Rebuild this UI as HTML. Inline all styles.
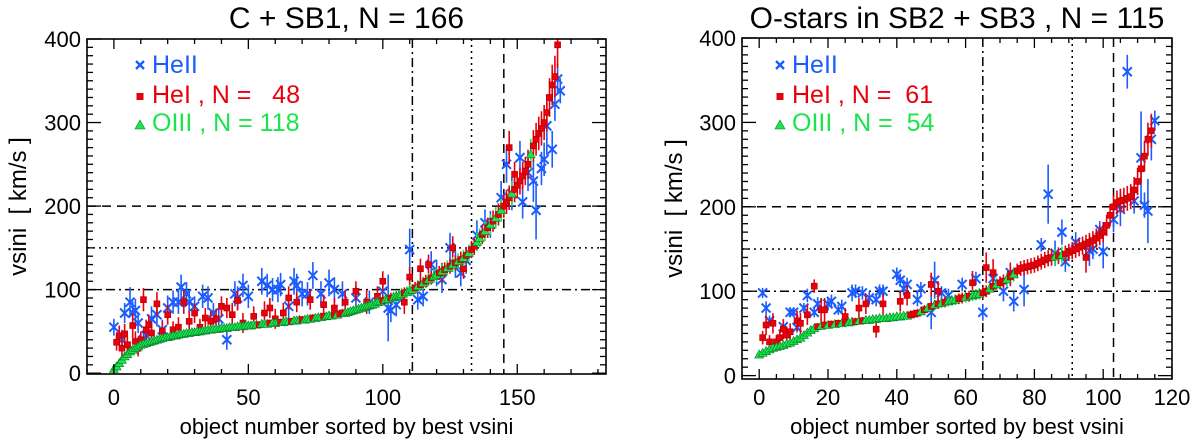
<!DOCTYPE html>
<html><head><meta charset="utf-8">
<style>
html,body{margin:0;padding:0;background:#fff;}
svg{display:block;font-family:"Liberation Sans",Arial,sans-serif;}
</style></head>
<body>
<svg id="chart" width="1200" height="441" viewBox="0 0 1200 441" xmlns="http://www.w3.org/2000/svg"></svg>
<script>
// ---------- LEFT PANEL DATA (C + SB1) ----------
const leftCurve = [
5,8,12,16,20,23,26,28,30,32,
34,35,36,37,38,39,40,41,42,43,
43,44,45,45,46,47,47,48,48,49,
49,50,50,51,51,52,52,53,53,53,
54,54,54,55,55,55,56,56,56,57,
57,57,58,58,58,59,59,59,60,60,
60,61,61,61,62,62,62,63,63,64,
64,64,65,65,66,66,67,67,68,68,
69,69,70,70,71,72,72,73,74,75,
76,77,78,79,80,81,82,83,85,86,
87,88,89,90,91,92,93,95,96,97,
99,100,102,104,106,108,110,112,114,116,
118,120,122,124,126,128,130,132,134,136,
138,141,144,148,152,157,162,166,170,174,
178,182,186,190,195,200,205,210,215,220,
225,230,236,242,250,262,272,280,287,293,
300,312,330,345,355,393];
const leftRedIdx = [54,58,62,66,70,74,78,82,84,85,100,103,108,112,114,116,118,121,123,125,127,129,131,133,134,137,139,141,143,145,146,147,149,150,151,152,153,154,156,157,158,159,160,161,162,163,164,165];
const leftRedX = [1,2,3,4,5,6,7,8,9,10,11,12,13,14,16,18,20,22,24,26,28,30,32,34,36,38,40,42,44,46,48,52,56,58,60,63,65,68,73,78,82,86,90,94,98,100,108,110,114,117,122,126,130,147,149];
const leftRedY = [37,45,30,47,34,28,57,38,30,40,88,52,58,48,83,50,70,52,55,85,62,72,55,66,62,65,80,78,70,87,60,68,72,78,65,72,90,85,88,82,78,85,98,85,92,110,85,115,125,130,120,150,125,270,238];
const leftRedErr = [10,12,10,12,10,10,15,12,10,10,14,12,12,10,14,12,12,10,12,14,12,12,10,12,12,12,12,12,14,12,12,12,14,12,12,12,14,12,12,12,12,14,12,14,12,12,14,12,12,12,12,14,12,20,15];
const leftBlueX = [0,3,4,6,7,8,9,11,12,14,16,18,20,22,24,25,27,28,30,33,35,37,39,42,45,46,48,50,55,57,59,61,62,65,67,68,70,72,74,77,80,82,85,90,95,100,102,103,105,110,113,115,118,120,122,125,127,129,131,135,138,140,144,146,148,151,152,154,156,157,159,160,161,163,164,165,166];
const leftBlueY = [55,40,72,85,72,75,60,40,45,65,70,52,78,85,85,103,95,85,80,92,90,72,65,40,95,90,105,92,110,105,100,100,106,80,110,105,95,95,117,95,108,100,95,90,85,98,78,75,82,148,88,92,130,120,112,150,130,120,135,165,180,178,210,250,215,258,205,240,230,195,245,256,296,268,322,352,338];
const leftBlueErr = [10,12,12,18,14,14,12,10,10,15,14,12,15,14,14,15,14,14,12,14,14,12,12,12,15,14,14,14,16,14,14,15,14,14,16,14,15,14,16,15,16,15,15,14,14,14,40,14,14,25,12,12,16,16,16,18,16,16,16,18,16,16,20,22,20,20,20,22,25,35,20,20,35,22,20,18,15];
const leftVLines = [111,133,145];
const leftXTicks = [0,50,100,150];

// ---------- RIGHT PANEL DATA (SB2 + SB3) ----------
const rightCurve = [
25,27,29,31,33,34,35,36,38,39,
41,43,45,48,51,54,56,58,59,60,
60,61,61,62,62,63,63,64,64,65,
65,66,66,67,67,68,68,68,69,69,
70,70,71,71,72,73,74,76,78,80,
82,84,85,86,87,88,89,90,91,92,
93,94,95,96,97,98,100,103,106,108,
110,112,114,117,120,124,127,128,129,130,
131,133,135,137,139,140,141,142,143,144,
146,148,150,152,154,156,158,160,163,166,
170,178,190,200,205,207,208,210,212,220,
230,245,260,280,290];
const rightGreenIdx = [0,1,2,3,4,5,6,7,8,9,10,11,12,13,14,15,16,18,20,22,24,26,27,29,31,32,33,34,35,36,37,38,39,40,41,42,43,47,49,51,53,55,56,57,60,62,63,64,67,69,72,74,86,88];
const rightRedX = [1,2,3,4,5,6,7,8,9,11,12,14,16,18,19,25,29,31,34,36,41,43,50,52,62,66,68,73,95];
const rightRedY = [45,60,40,62,40,45,55,48,52,65,62,72,106,78,78,70,80,85,55,85,88,95,108,100,110,128,122,120,140];
const rightRedErr = [8,12,8,12,8,10,12,10,10,12,12,12,8,14,14,10,12,12,10,12,12,12,14,12,14,18,16,14,18];
const rightBlueX = [1,2,3,7,9,10,11,13,14,16,17,20,21,23,24,27,28,30,32,34,35,36,40,41,42,43,46,47,50,51,53,55,59,63,65,68,71,73,74,77,82,84,86,88,89,92,96,97,99,100,103,105,107,109,111,112,113,114,115];
const rightBlueY = [98,80,65,58,75,75,57,80,95,75,85,85,88,78,82,98,100,98,92,90,100,100,120,113,103,108,90,103,75,113,98,95,108,115,75,115,100,122,88,102,155,215,145,170,135,158,148,150,173,147,185,197,360,207,258,202,195,280,302];
const rightBlueErr = [6,8,6,6,6,6,6,6,8,6,8,8,8,6,8,10,8,8,8,8,8,8,8,8,8,8,8,8,20,22,8,8,8,8,10,10,12,8,12,20,8,35,15,15,12,12,18,12,10,20,15,20,20,15,55,15,38,25,12];
const rightVLines = [65,91,103];
const rightXTicks = [0,20,40,60,80,100,120];

const yTicks = [0,100,200,300,400];
const hLines = [200,150,100];

const SVGNS = "http://www.w3.org/2000/svg";
const svg = document.getElementById('chart');
const BLUE = "#1a5cff", RED = "#e8000b", GREEN = "#19e64b";

function mk(tag, attrs, parent){
  const e = document.createElementNS(SVGNS, tag);
  for (const k in attrs) e.setAttribute(k, attrs[k]);
  (parent||svg).appendChild(e);
  return e;
}

function panel(cfg){
  const g = mk('g', {});
  
  
  const sx = v => cfg.x0 + (v - cfg.xmin) / (cfg.xmax - cfg.xmin) * (cfg.x1 - cfg.x0);
  const sy = v => cfg.y1 - (v - cfg.ymin) / (cfg.ymax - cfg.ymin) * (cfg.y1 - cfg.y0);
  const clipId = cfg.name + '-clip';
  const cp = mk('clipPath', {id: clipId}, g);
  mk('rect', {x: cfg.x0, y: cfg.y0, width: cfg.x1 - cfg.x0, height: cfg.y1 - cfg.y0}, cp);
  const plot = mk('g', {'clip-path': 'url(#' + clipId + ')'}, g);

  const hd = {200: '9,6', 150: '2,4', 100: '9,4,2,4'};
  hLines.forEach(v => {
    const l = mk('line', {x1: cfg.x0, x2: cfg.x1, y1: sy(v), y2: sy(v), stroke: '#000', 'stroke-width': 1.5, 'stroke-dasharray': hd[v]}, plot);
    
    
  });
  const vd = ['9,4,2,4', '2,4', '9,6'];
  cfg.vlines.forEach((v, i) => {
    const l = mk('line', {x1: sx(v), x2: sx(v), y1: cfg.y0, y2: cfg.y1, stroke: '#000', 'stroke-width': 1.5, 'stroke-dasharray': vd[i]}, plot);
    
    
  });

  function err(x, y, e, col){
    mk('line', {x1: sx(x), x2: sx(x), y1: sy(y - e), y2: sy(y + e), stroke: col, 'stroke-width': 1.6}, plot);
  }
  function square(x, y){
    const s = mk('rect', {x: sx(x) - 3, y: sy(y) - 3, width: 6, height: 6, fill: RED, stroke: '#b00000', 'stroke-width': 0.6}, plot);
    
    
  }
  function tri(x, y){
    const X = sx(x), Y = sy(y);
    const t = mk('polygon', {points: (X-4.5)+','+(Y+3.5)+' '+(X+4.5)+','+(Y+3.5)+' '+X+','+(Y-4.5), fill: GREEN, stroke: '#0a7a2a', 'stroke-width': 0.6}, plot);
    
    
  }
  function cross(x, y){
    const X = sx(x), Y = sy(y), r = 4.5;
    const p = mk('path', {d: 'M'+(X-r)+','+(Y-r)+'L'+(X+r)+','+(Y+r)+'M'+(X-r)+','+(Y+r)+'L'+(X+r)+','+(Y-r), stroke: BLUE, 'stroke-width': 2, fill: 'none'}, plot);
    
    
  }

  cfg.bx.forEach((x, i) => err(x, cfg.by[i], cfg.be[i], BLUE));
  cfg.bx.forEach((x, i) => cross(x, cfg.by[i]));
  cfg.rx.forEach((x, i) => err(x, cfg.ry[i], cfg.re[i], RED));
  cfg.rx.forEach((x, i) => square(x, cfg.ry[i]));
  cfg.curve.forEach((v, i) => {
    const red = cfg.isRed(i);
    err(i, v, Math.max(4, v * 0.07), red ? RED : GREEN);
  });
  cfg.curve.forEach((v, i) => { if (cfg.isRed(i)) square(i, v); else tri(i, v); });

  const fr = mk('rect', {x: cfg.x0, y: cfg.y0, width: cfg.x1 - cfg.x0, height: cfg.y1 - cfg.y0, fill: 'none', stroke: '#000', 'stroke-width': 1.6}, g);
  
  

  const tg = mk('g', {stroke: '#000', 'stroke-width': 1.3}, g);
  for (let v = Math.ceil(cfg.xmin / cfg.xminor) * cfg.xminor; v <= cfg.xmax; v += cfg.xminor) {
    const major = v % cfg.xmajor === 0, L = major ? 10 : 5, X = sx(v);
    mk('line', {x1: X, x2: X, y1: cfg.y1, y2: cfg.y1 - L}, tg);
    mk('line', {x1: X, x2: X, y1: cfg.y0, y2: cfg.y0 + L}, tg);
  }
  for (let v = Math.ceil(cfg.ymin / 10) * 10; v <= cfg.ymax; v += 10) {
    const major = v % 100 === 0, L = major ? 14 : 6, Y = sy(v);
    mk('line', {x1: cfg.x0, x2: cfg.x0 + L, y1: Y, y2: Y}, tg);
    mk('line', {x1: cfg.x1, x2: cfg.x1 - L, y1: Y, y2: Y}, tg);
  }
  cfg.xticks.forEach(v => {
    const t = mk('text', {x: sx(v), y: 405, 'text-anchor': 'middle', 'font-size': 22}, g);
    t.textContent = v;
    
    
  });
  yTicks.forEach(v => {
    const t = mk('text', {x: cfg.x0 - 6, y: sy(v) + 8, 'text-anchor': 'end', 'font-size': 22}, g);
    t.textContent = v;
    
    
  });
  const xl = mk('text', {x: (cfg.x0 + cfg.x1) / 2, y: 434, 'text-anchor': 'middle', 'font-size': 22}, g);
  xl.textContent = 'object number sorted by best vsini';
  
  
  const yc = (cfg.y0 + cfg.y1) / 2;
  const yl = mk('text', {x: cfg.ylx, y: yc, 'text-anchor': 'middle', 'font-size': 24, transform: 'rotate(-90 ' + cfg.ylx + ' ' + yc + ')'}, g);
  yl.textContent = 'vsini\u00a0\u00a0[ km/s ]';
  
  
  const ti = mk('text', {x: (cfg.x0 + cfg.x1) / 2, y: 28, 'text-anchor': 'middle', 'font-size': 30}, g);
  ti.textContent = cfg.title;
  
  

  const lx = cfg.legX;
  const lg = mk('g', {}, g);
  
  
  mk('path', {d: 'M'+(lx-4)+',61L'+(lx+4)+',69M'+(lx-4)+',69L'+(lx+4)+',61', stroke: BLUE, 'stroke-width': 2.4}, lg);
  mk('rect', {x: lx - 3.5, y: 93, width: 7, height: 7, fill: RED}, lg);
  mk('polygon', {points: (lx-5)+',129 '+(lx+5)+',129 '+lx+',120', fill: GREEN, stroke: '#0a7a2a', 'stroke-width': 0.6}, lg);
  const entries = [['HeII', BLUE, 73], [cfg.hei, RED, 103], [cfg.oiii, GREEN, 131]];
  entries.forEach(en => {
    const t = mk('text', {x: lx + 12, y: en[2], fill: en[1], 'font-size': 25}, lg);
    t.textContent = en[0];
    
    
  });
}

const leftRedSet = new Set(leftRedIdx);
const rightGreenSet = new Set(rightGreenIdx);

panel({name: 'left-panel', x0: 87, x1: 606, y0: 39, y1: 374, xmin: -10, xmax: 183, ymin: -1, ymax: 400,
  xmajor: 50, xminor: 10, xticks: leftXTicks, vlines: leftVLines, ylx: 26,
  title: 'C + SB1, N = 166', hei: 'HeI , N =\u00a0\u00a0\u00a048', oiii: 'OIII , N = 118', legX: 140,
  curve: leftCurve, isRed: i => leftRedSet.has(i),
  rx: leftRedX, ry: leftRedY, re: leftRedErr, bx: leftBlueX, by: leftBlueY, be: leftBlueErr});

panel({name: 'right-panel', x0: 742, x1: 1172, y0: 38, y1: 379, xmin: -5, xmax: 120, ymin: -4, ymax: 400,
  xmajor: 20, xminor: 5, xticks: rightXTicks, vlines: rightVLines, ylx: 682,
  title: 'O-stars in SB2 + SB3 , N = 115', hei: 'HeI , N =\u00a0\u00a061', oiii: 'OIII , N =\u00a0\u00a054', legX: 780,
  curve: rightCurve, isRed: i => !rightGreenSet.has(i),
  rx: rightRedX, ry: rightRedY, re: rightRedErr, bx: rightBlueX, by: rightBlueY, be: rightBlueErr});
</script>
</body></html>
